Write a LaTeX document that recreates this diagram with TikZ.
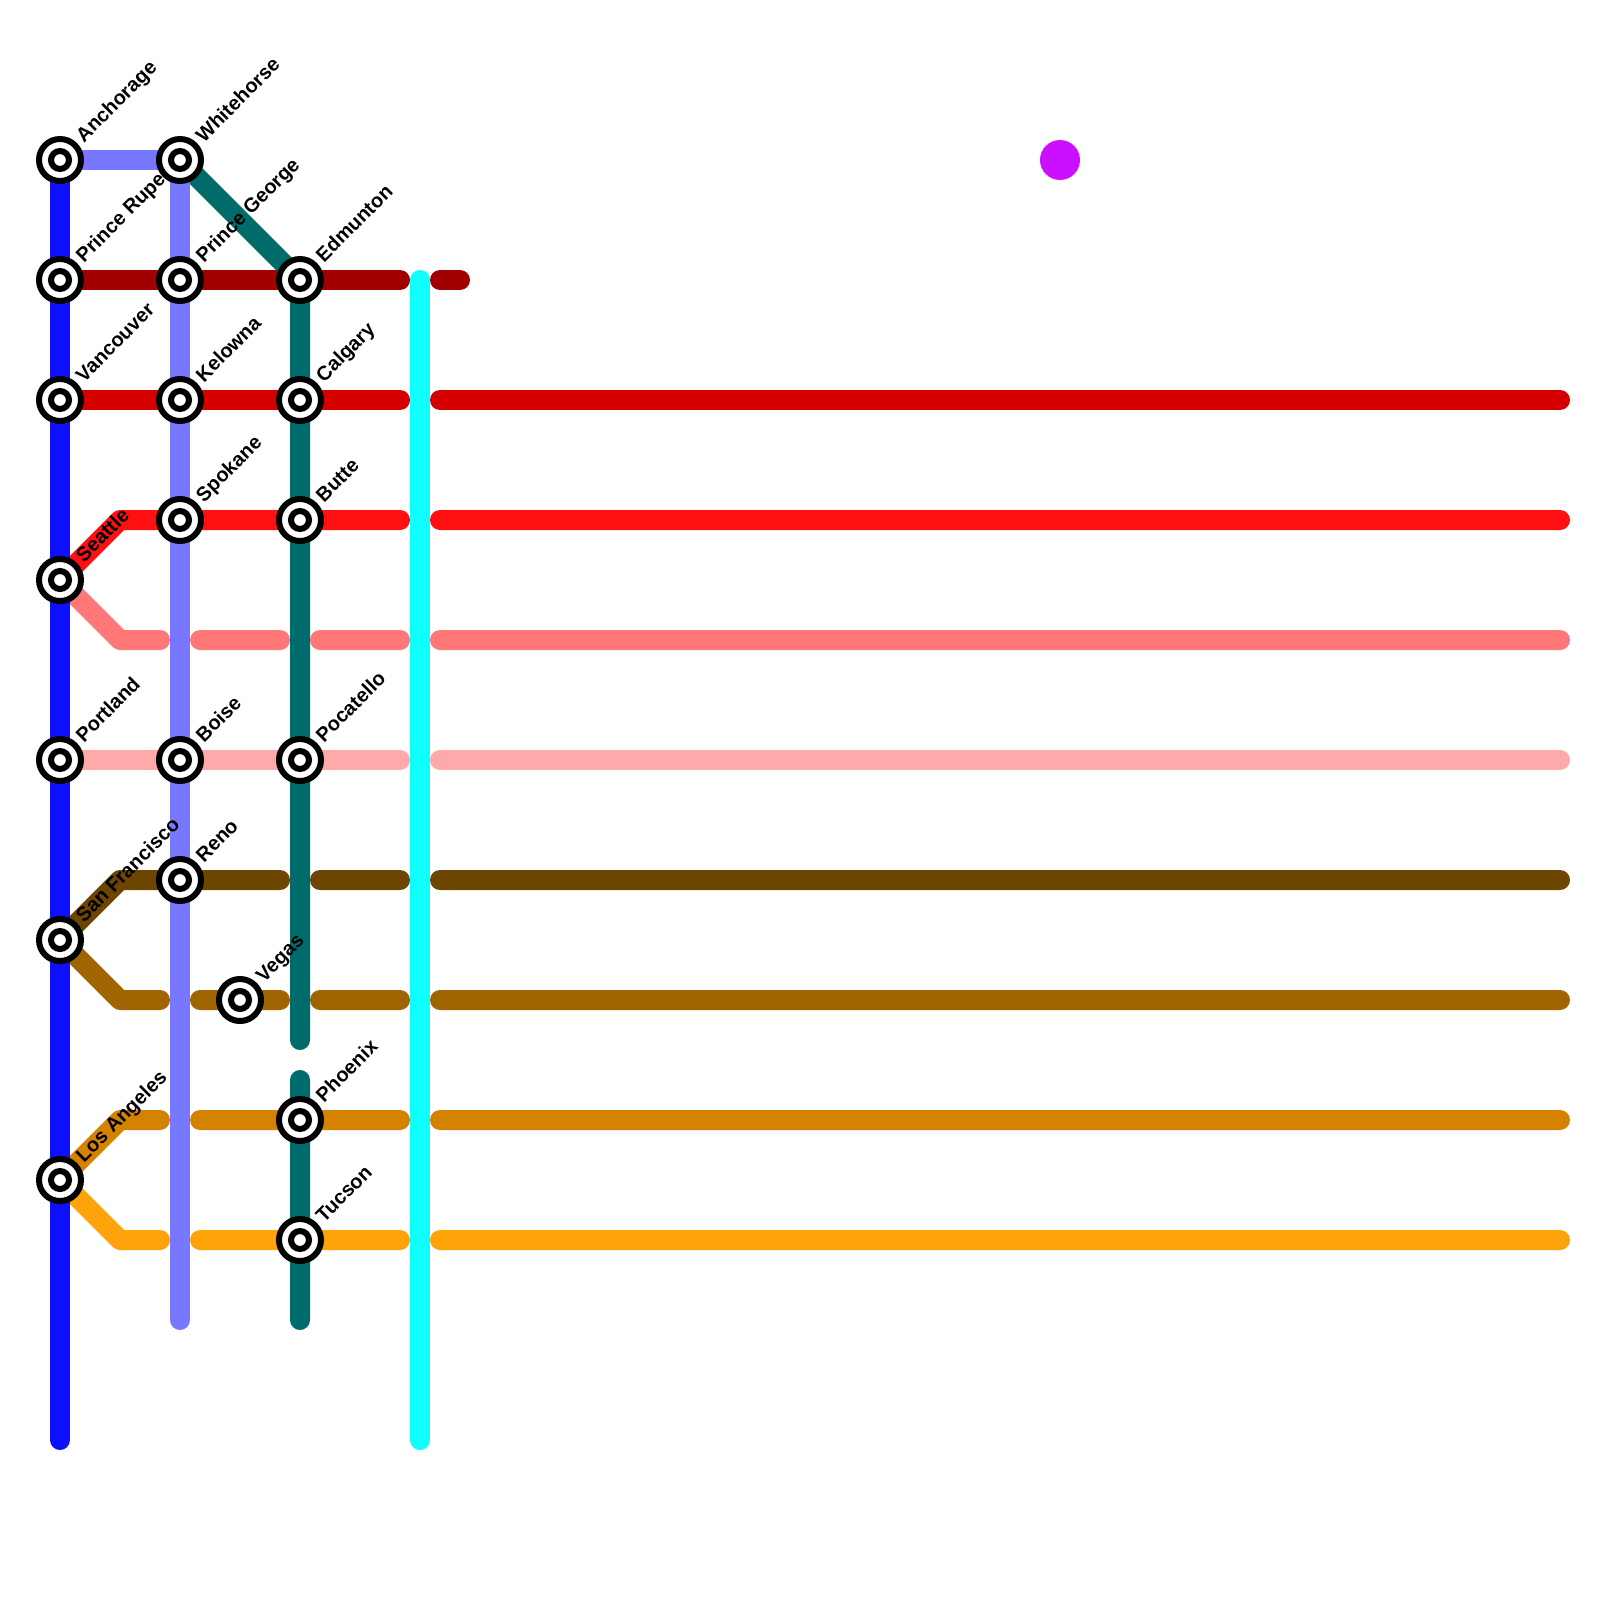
\documentclass[tikz,border=0pt]{standalone}
\usepackage{fontspec}
\setmainfont{Liberation Sans}
\definecolor{cblue}{HTML}{0F0FFF}
\definecolor{clblue}{HTML}{7777FF}
\definecolor{cteal}{HTML}{006B6B}
\definecolor{ccyan}{HTML}{0FFFFF}
\definecolor{cdred}{HTML}{A00000}
\definecolor{cmred}{HTML}{D40000}
\definecolor{cred}{HTML}{FF0F0F}
\definecolor{cpink}{HTML}{FF7777}
\definecolor{clpink}{HTML}{FFAAAA}
\definecolor{cdbrown}{HTML}{6C4500}
\definecolor{cbrown}{HTML}{A06500}
\definecolor{cdorange}{HTML}{D48200}
\definecolor{corange}{HTML}{FFA30B}
\definecolor{cpurple}{HTML}{CC0FFF}
\tikzset{
  route/.style={line width=10pt,line cap=round,line join=round},
  stnouter/.style={circle,draw=black,fill=white,line width=3pt,minimum size=21pt,inner sep=0pt,outer sep=0pt},
  stninner/.style={circle,draw=black,fill=white,line width=3pt,minimum size=9pt,inner sep=0pt,outer sep=0pt},
  stnlabel/.style={anchor=base west,rotate=45,inner sep=0pt,outer sep=0pt,font=\bfseries\fontsize{10pt}{12pt}\selectfont,text=black},
  blob/.style={circle,fill=cpurple,minimum size=20pt,inner sep=0pt,outer sep=0pt}
}
\newcommand{\stn}[4]{% id, x, y, label
  \node[stnlabel] (#1-l) at ([shift={(24,-17)}]#2,#3) {#4};
  \node[stnouter] (#1) at (#2,#3) {};
  \node[stninner] (#1-i) at (#2,#3) {};
}
\begin{document}
\begin{tikzpicture}[x=0.5pt,y=-0.5pt]
\useasboundingbox (0,0) rectangle (1600,1600);
\fill[white] (0,0) rectangle (1600,1600);
% grid coordinates
\foreach \n/\cx/\cy in {anch/60/160,rup/60/280,van/60/400,sea/60/580,por/60/760,sf/60/940,la/60/1180,bl/60/1440,
  whi/180/160,pg/180/280,kel/180/400,spo/180/520,boi/180/760,ren/180/880,lbl/180/1320,
  edm/300/280,cal/300/400,but/300/520,poc/300/760,tg/300/1040,th/300/1080,pho/300/1120,tuc/300/1240,tb/300/1320,
  cyt/420/280,cyb/420/1440,
  sb/120/520,pb/120/640,db/120/880,bb/120/1000,ob/120/1120,yb/120/1240}
  {\coordinate (p\n) at (\cx,\cy);}
\foreach \yy in {280,400,520,640,760,880,1000,1120,1240}{
  \coordinate (a\yy) at (160,\yy);
  \coordinate (b\yy) at (200,\yy);
  \coordinate (c\yy) at (280,\yy);
  \coordinate (d\yy) at (320,\yy);
  \coordinate (e\yy) at (400,\yy);
  \coordinate (f\yy) at (440,\yy);
  \coordinate (g\yy) at (1560,\yy);
}
\coordinate (h280) at (460,280);
% horizontal routes
\draw[route,cdred] (prup) -- (e280) (f280) -- (h280);
\draw[route,cmred] (pvan) -- (e400) (f400) -- (g400);
\draw[route,cred] (psea) -- (psb) -- (e520) (f520) -- (g520);
\draw[route,cpink] (psea) -- (ppb) -- (a640) (b640) -- (c640) (d640) -- (e640) (f640) -- (g640);
\draw[route,clpink] (ppor) -- (e760) (f760) -- (g760);
\draw[route,cdbrown] (psf) -- (pdb) -- (c880) (d880) -- (e880) (f880) -- (g880);
\draw[route,cbrown] (psf) -- (pbb) -- (a1000) (b1000) -- (c1000) (d1000) -- (e1000) (f1000) -- (g1000);
\draw[route,cdorange] (pla) -- (pob) -- (a1120) (b1120) -- (e1120) (f1120) -- (g1120);
\draw[route,corange] (pla) -- (pyb) -- (a1240) (b1240) -- (e1240) (f1240) -- (g1240);
% vertical routes
\draw[route,cteal] (pwhi) -- (pedm) -- (ptg) (pth) -- (ptb);
\draw[route,clblue] (panch) -- (pwhi) -- (plbl);
\draw[route,cblue] (panch) -- (pbl);
\draw[route,ccyan] (pcyt) -- (pcyb);
% isolated point
\node[blob] (lone) at (1060,160) {};
% stations
\stn{anch}{60}{160}{Anchorage}
\stn{rup}{60}{280}{Prince Rupert}
\stn{van}{60}{400}{Vancouver}
\stn{sea}{60}{580}{Seattle}
\stn{por}{60}{760}{Portland}
\stn{sf}{60}{940}{San Francisco}
\stn{la}{60}{1180}{Los Angeles}
\stn{whi}{180}{160}{Whitehorse}
\stn{pg}{180}{280}{Prince George}
\stn{kel}{180}{400}{Kelowna}
\stn{spo}{180}{520}{Spokane}
\stn{boi}{180}{760}{Boise}
\stn{ren}{180}{880}{Reno}
\stn{veg}{240}{1000}{Vegas}
\stn{edm}{300}{280}{Edmunton}
\stn{cal}{300}{400}{Calgary}
\stn{but}{300}{520}{Butte}
\stn{poc}{300}{760}{Pocatello}
\stn{pho}{300}{1120}{Phoenix}
\stn{tuc}{300}{1240}{Tucson}
\end{tikzpicture}
\end{document}
